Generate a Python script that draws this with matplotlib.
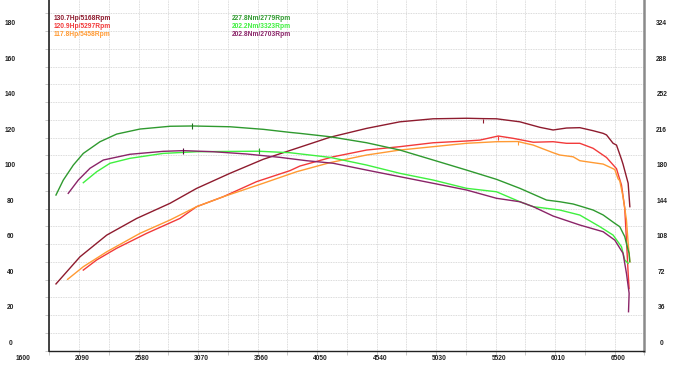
import matplotlib
matplotlib.use("Agg")
import matplotlib.pyplot as plt

# Leistung (Hp) ueber Drehzahl
rpm_brown = [1655, 1853, 2073, 2320, 2594, 2813, 3088, 3362, 3637, 3911, 4213, 4487, 4761, 5036, 5168, 5283,
             5475, 5640, 5749, 5859, 5969, 6078, 6161, 6189, 6243, 6271, 6312, 6325, 6367, 6381]
hp_brown = [37.6, 52.9, 65.1, 74.5, 83.0, 91.4, 99.9, 107.8, 114.0, 120.2, 125.2, 128.9, 130.6, 130.9, 130.7, 130.6,
            128.9, 125.8, 124.3, 125.4, 125.6, 123.9, 122.4, 121.5, 116.8, 115.8, 107.8, 105.0, 94.3, 81.1]

rpm_red = [1880, 1990, 2155, 2402, 2676, 2813, 3032, 3307, 3582, 3664, 3938, 4213, 4487, 4761, 5036, 5146, 5297,
           5420, 5585, 5749, 5859, 5969, 6078, 6189, 6271, 6312, 6339, 6353, 6367, 6375]
hp_red = [45.4, 51.1, 57.7, 66.1, 74.5, 81.1, 86.7, 95.2, 101.4, 104.0, 109.2, 113.0, 114.9, 117.1, 118.1, 118.6, 120.9,
          119.6, 117.4, 117.7, 116.8, 116.8, 114.0, 108.8, 102.5, 93.3, 80.2, 62.3, 43.5, 35.0]

rpm_orange = [1751, 1880, 2073, 2347, 2594, 2813, 3032, 3362, 3637, 3911, 4213, 4487, 4761, 5036, 5283, 5458,
              5585, 5749, 5804, 5914, 5969, 6078, 6161, 6243, 6257, 6284, 6298, 6325, 6353, 6367, 6381]
hp_orange = [40.2, 47.3, 55.7, 66.1, 73.6, 81.1, 86.7, 94.3, 100.8, 105.9, 110.2, 113.0, 114.9, 116.8, 117.7, 117.8,
             115.8, 111.5, 110.2, 109.2, 107.0, 105.9, 105.1, 102.5, 102.0, 96.8, 95.7, 86.7, 73.6, 60.6, 50.0]

# Drehmoment (Nm)
rpm_dgreen = [1655, 1715, 1798, 1880, 2017, 2155, 2347, 2594, 2779, 3088, 3362, 3582, 3664, 3911, 4213, 4487, 4761,
              5036, 5283, 5475, 5695, 5804, 5914, 5969, 6078, 6161, 6257, 6298, 6339, 6367, 6375, 6381]
nm_dgreen = [157.8, 172.9, 188.2, 200.0, 211.8, 219.6, 224.7, 227.5, 227.8, 227.0, 224.4, 221.3, 220.3, 216.9, 210.8,
             203.4, 193.3, 183.1, 173.7, 164.6, 152.7, 151.0, 148.7, 146.7, 142.6, 137.6, 129.1, 125.7, 115.6, 102.0,
             98.7, 90.2]

rpm_lgreen = [1880, 1990, 2100, 2264, 2538, 2813, 3088, 3323, 3582, 3911, 4213, 4487, 4761, 5036, 5283, 5475, 5585,
              5804, 5969, 6134, 6243, 6312, 6339, 6367]
nm_lgreen = [170.3, 181.4, 190.0, 195.0, 200.0, 201.7, 202.0, 202.2, 200.7, 196.0, 188.2, 179.8, 173.0, 164.6, 161.1,
             151.0, 146.0, 142.6, 137.5, 125.7, 117.2, 105.4, 91.9, 88.6]

rpm_purple = [1756, 1839, 1935, 2045, 2264, 2538, 2703, 2950, 3225, 3499, 3719, 3938, 4213, 4487, 4761, 5036, 5283,
              5475, 5585, 5749, 5969, 6161, 6257, 6325, 6353, 6375, 6370]
nm_purple = [159.5, 173.0, 184.9, 193.3, 199.1, 202.1, 202.8, 201.7, 199.4, 196.0, 192.6, 190.0, 183.1, 176.4, 169.7,
             162.9, 154.5, 151.0, 146.0, 136.5, 127.4, 120.6, 112.1, 98.7, 78.4, 58.2, 39.5]

x_labels = [1600, 2090, 2580, 3070, 3560, 4050, 4540, 5030, 5520, 6010, 6500]
hp_labels = [0, 20, 40, 60, 80, 100, 120, 140, 160, 180]
nm_labels = [0, 36, 72, 108, 144, 180, 216, 252, 288, 324]

power_texts = ["130.7Hp/5168Rpm", "120.9Hp/5297Rpm", "117.8Hp/5458Rpm"]
torque_texts = ["227.8Nm/2779Rpm", "202.2Nm/3323Rpm", "202.8Nm/2703Rpm"]

c_brown = "#8e1b2e"
c_red = "#f23a3a"
c_orange = "#ff9a33"
c_dgreen = "#2f9a2f"
c_lgreen = "#3ff03f"
c_purple = "#8a2468"

font = ["Liberation Sans", "DejaVu Sans"]
fs = 4.8

fig = plt.figure(figsize=(6.8, 3.76), dpi=100)
ax = fig.add_axes([49.3 / 680, 25.3 / 376, 595 / 680, 350.7 / 376])
ax.set_xlim(1600, 6500)
ax.set_ylim(0, 197.5)

ax.set_xticks(range(1600, 6501, 245))
ax.set_yticks(range(0, 191, 10))
ax.tick_params(axis="both", direction="out", length=3, width=0.6, color="#c0c0c0",
               labelbottom=False, labelleft=False, right=True)
ax.grid(True, color="#cfcfcf", linestyle=(0, (1, 1)), linewidth=0.6)
ax.set_axisbelow(True)

ax.spines["top"].set_visible(False)
ax.spines["left"].set_color("#222222")
ax.spines["left"].set_linewidth(1.2)
ax.spines["bottom"].set_color("#222222")
ax.spines["bottom"].set_linewidth(1.0)
ax.spines["right"].set_color("#8a8a8a")
ax.spines["right"].set_linewidth(1.8)

lw = 1.0
ax.plot(rpm_brown, hp_brown, color=c_brown, lw=lw)
ax.plot(rpm_red, hp_red, color=c_red, lw=lw)
ax.plot(rpm_orange, hp_orange, color=c_orange, lw=lw)

ax2 = ax.twinx()
ax2.set_ylim(0, 197.5 * 1.8)
ax2.set_yticks([])
for s in ax2.spines.values():
    s.set_visible(False)
ax2.plot(rpm_dgreen, nm_dgreen, color=c_dgreen, lw=lw)
ax2.plot(rpm_lgreen, nm_lgreen, color=c_lgreen, lw=lw)
ax2.plot(rpm_purple, nm_purple, color=c_purple, lw=lw)

# kleine Markierungen an den Spitzen
ax.plot([5168], [129.5], marker="|", ms=3, color=c_brown, mew=0.8)
ax.plot([5297], [119.8], marker="|", ms=3, color=c_red, mew=0.8)
ax.plot([5458], [116.8], marker="|", ms=3, color=c_orange, mew=0.8)
ax2.plot([2779], [227.8], marker="|", ms=4, color="#1f6f1f", mew=0.8)
ax2.plot([3323], [202.2], marker="|", ms=4, color=c_dgreen, mew=0.8)
ax2.plot([2703], [202.8], marker="|", ms=4, color="#5a1040", mew=0.8)

# Achsenbeschriftung (wie im Original verschoben)
for v in x_labels:
    ax.annotate(str(v), xy=(v - 245, 0), xycoords=("data", "axes fraction"), xytext=(3.5, -7.5),
                textcoords="offset pixels", ha="center", va="center", fontsize=fs, fontweight="bold",
                family=font, color="#222222", annotation_clip=False)
for v in hp_labels:
    ax.annotate(str(v), xy=(0, v), xycoords=("axes fraction", "data"), xytext=(-39, 7.3),
                textcoords="offset pixels", ha="center", va="center", fontsize=fs, fontweight="bold",
                family=font, color="#222222", annotation_clip=False)
for v in nm_labels:
    ax2.annotate(str(v), xy=(1, v), xycoords=("axes fraction", "data"), xytext=(17.5, 7.3),
                 textcoords="offset pixels", ha="center", va="center", fontsize=fs, fontweight="bold",
                 family=font, color="#222222", annotation_clip=False)

for i, (t, c) in enumerate(zip(power_texts, [c_brown, c_red, c_orange])):
    fig.text(53.3 / 680, 1 - (19 + 7.6 * i) / 376, t, color=c, fontsize=fs, fontweight="bold",
             family=font, va="center", ha="left")
for i, (t, c) in enumerate(zip(torque_texts, [c_dgreen, c_lgreen, c_purple])):
    fig.text(232.3 / 680, 1 - (19 + 7.6 * i) / 376, t, color=c, fontsize=fs, fontweight="bold",
             family=font, va="center", ha="left")

fig.savefig("out.png", dpi=100)
